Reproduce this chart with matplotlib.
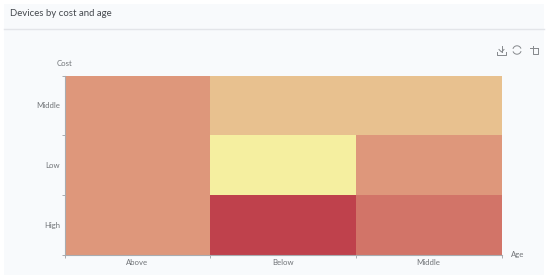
#!/usr/bin/env python3
import matplotlib

matplotlib.use("Agg", force=True)
import matplotlib.pyplot as plt
from matplotlib.colors import ListedColormap
from matplotlib.patches import Rectangle
import numpy as np

W, H = 550, 278

ages = ["Above", "Below", "Middle"]
costs = ["High", "Low", "Middle"]
# rows follow costs, columns follow ages
counts = np.array([
    [3, 5, 4],
    [3, 1, 3],
    [3, 2, 2],
])
level_colors = ["#F5EFA0", "#E8C18F", "#DE977B", "#D27468", "#BF414C"]

TEXT = "#6f7276"
AXIS = "#a9acb0"


def fx(px):
    return px / W


def fy(py):
    return 1 - py / H


fig = plt.figure(figsize=(W / 100, H / 100), dpi=100, facecolor="white")
plt.rcParams["font.family"] = ["Lato", "DejaVu Sans"]

# panel background and title bar
fig.patches.append(Rectangle((fx(4), fy(275)), fx(540), 271 / H, transform=fig.transFigure,
                             facecolor="#F8FAFC", edgecolor="none", zorder=-5))
fig.add_artist(plt.Line2D([fx(4), fx(544)], [fy(29), fy(29)], color="#E3E5E9", lw=1))
fig.text(fx(10), fy(14), "Devices by cost and age", fontsize=6.9, color="#44484d", va="center", ha="left")

ax = fig.add_axes([fx(64.5), fy(255), fx(437), 179.5 / H])
ax.pcolormesh(np.arange(4), np.arange(4), counts, cmap=ListedColormap(level_colors), vmin=0.5, vmax=5.5)
ax.set_xlim(0, 3)
ax.set_ylim(0, 3)

ax.set_xticks(np.arange(4))
ax.set_yticks(np.arange(4))
ax.set_xticklabels([])
ax.set_yticklabels([])
ax.set_xticks(np.arange(3) + 0.5, labels=ages, minor=True)
ax.set_yticks(np.arange(3) + 0.5, labels=costs, minor=True)
ax.tick_params(axis="both", which="major", length=2.5, width=0.7, color=AXIS)
ax.tick_params(axis="both", which="minor", length=0, labelsize=5.6, labelcolor=TEXT, pad=3)

for side in ["top", "right"]:
    ax.spines[side].set_visible(False)
for side in ["left", "bottom"]:
    ax.spines[side].set_color(AXIS)
    ax.spines[side].set_linewidth(0.8)

fig.text(fx(64.5), fy(63), "Cost", fontsize=5.6, color=TEXT, ha="center", va="center")
fig.text(fx(517.5), fy(254), "Age", fontsize=5.6, color=TEXT, ha="center", va="center")

# toolbox icons
ICON = "#85888c"


def icon_line(xs, ys):
    fig.add_artist(plt.Line2D([fx(v) for v in xs], [fy(v) for v in ys], color=ICON, lw=0.7))


# download
icon_line([501.5, 501.5], [46, 52])
icon_line([499, 501.5, 504], [49.5, 52, 49.5])
icon_line([497, 497, 506, 506], [52, 54.5, 54.5, 52])

# refresh
theta = np.linspace(0.45, 2.75, 20)
icon_line(517 + 4.2 * np.cos(theta), 50 - 4.2 * np.sin(theta))
icon_line(517 + 4.2 * np.cos(theta + np.pi), 50 - 4.2 * np.sin(theta + np.pi))

# restore / crop
icon_line([532.5, 532.5, 538, 538], [46, 54, 54, 47.5])
icon_line([530, 538], [47.5, 47.5])

fig.savefig("out.png", dpi=100, facecolor="white")
